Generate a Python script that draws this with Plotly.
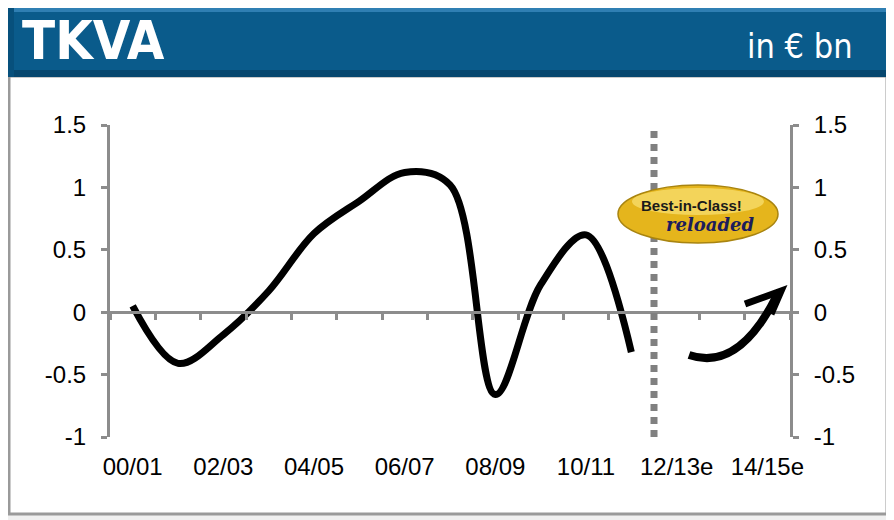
import plotly.graph_objects as go

# ---- data ----
periods = ["00/01", "01/02", "02/03", "03/04", "04/05", "05/06", "06/07", "07/08",
           "08/09", "09/10", "10/11", "11/12", "12/13e", "13/14e", "14/15e"]
tkva = [0.05, -0.41, -0.18, 0.17, 0.63, 0.89, 1.12, 1.02, -0.66, 0.22, 0.62, -0.32]
shown_labels = ["00/01", "02/03", "04/05", "06/07", "08/09", "10/11", "12/13e", "14/15e"]
y_ticks = [-1, -0.5, 0, 0.5, 1, 1.5]
y_ticktext = ["-1", "-0.5", "0", "0.5", "1", "1.5"]
forecast_start = "12/13e"

# page is offset by the default 8px body margin; layout numbers below are screen pixels
OFF = 8
W, H = 894, 520
L, R, T, B = 110 - OFF, W - (790 - OFF), 125 - OFF, H - (437 - OFF)
PW, PH = W - L - R, H - T - B


def px(x):
    return (x - OFF - L) / PW


def py(y):
    return (H - B - (y - OFF)) / PH


idx = list(range(len(periods)))
fig = go.Figure()
fig.add_trace(go.Scatter(x=idx[:len(tkva)], y=tkva, mode="lines",
                         line=dict(color="black", width=7, shape="spline", smoothing=1.0),
                         showlegend=False, hoverinfo="skip"))
fig.add_trace(go.Scatter(x=[None], y=[None], xaxis="x2", yaxis="y2",
                         showlegend=False, hoverinfo="skip"))

GRAY = "#8c8c8c"
tickfont = dict(family="Liberation Sans, Arial, sans-serif", size=24, color="black")
yax = dict(range=[-1, 1.5], tickvals=y_ticks, ticktext=y_ticktext, showline=True,
           linecolor=GRAY, linewidth=3, ticks="outside", ticklen=6, tickwidth=3,
           tickcolor=GRAY, showgrid=False, zeroline=False, tickfont=tickfont,
           ticklabelstandoff=10)

fig.update_layout(
    width=W, height=H,
    margin=dict(l=L, r=R, t=T, b=B),
    paper_bgcolor="#f0f0f0", plot_bgcolor="rgba(0,0,0,0)",
    xaxis=dict(range=[-0.5, len(periods) - 0.5],
               tickvals=[periods.index(p) for p in shown_labels], ticktext=shown_labels,
               showline=False, ticks="", showgrid=False, zeroline=False,
               tickfont=tickfont, ticklabelstandoff=13),
    xaxis2=dict(overlaying="x", matches="x", anchor="free",
                position=(0 - (-1)) / 2.5, side="bottom",
                tickvals=[i - 0.5 for i in range(len(periods) + 1)],
                showticklabels=False, showline=True, linecolor=GRAY, linewidth=3,
                ticks="outside", ticklen=6, tickwidth=3, tickcolor=GRAY,
                showgrid=False, zeroline=False),
    yaxis=yax,
    yaxis2=dict(yax, overlaying="y", matches="y", side="right", anchor="x2"),
)

shapes = []
# page panel
shapes.append(dict(type="rect", xref="paper", yref="paper", layer="below",
                   x0=px(9), x1=px(887), y0=py(514), y1=py(76),
                   fillcolor="white", line=dict(color="#9a9a9a", width=3)))
# header bar
shapes.append(dict(type="rect", xref="paper", yref="paper", layer="above",
                   x0=px(8), x1=px(902), y0=py(77), y1=py(0),
                   fillcolor="#0a5b8b", line=dict(width=0)))
shapes.append(dict(type="rect", xref="paper", yref="paper", layer="above",
                   x0=px(8), x1=px(902), y0=py(12), y1=py(0),
                   fillcolor="#2f7fb3", line=dict(width=0)))
shapes.append(dict(type="rect", xref="paper", yref="paper", layer="above",
                   x0=px(8), x1=px(902), y0=py(77), y1=py(70),
                   fillcolor="#06476f", line=dict(width=0)))
shapes.append(dict(type="rect", xref="paper", yref="paper", layer="above",
                   x0=px(8), x1=px(14), y0=py(77), y1=py(0),
                   fillcolor="#07507c", line=dict(width=0)))
# forecast divider
fb = periods.index(forecast_start) - 0.5
shapes.append(dict(type="line", xref="x", yref="y", x0=fb, x1=fb, y0=-1, y1=1.47,
                   line=dict(color="#808080", width=7, dash="7px,6px")))
# outlook arrow (decoration)
shapes.append(dict(type="path", xref="paper", yref="paper",
                   path=f"M {px(689)},{py(355)} Q {px(738)},{py(372)} {px(776)},{py(297)}",
                   line=dict(color="black", width=8)))
shapes.append(dict(type="path", xref="paper", yref="paper",
                   path=f"M {px(745)},{py(304)} L {px(781)},{py(291)} L {px(771)},{py(314)}",
                   line=dict(color="black", width=7)))
# badge
shapes.append(dict(type="circle", xref="paper", yref="paper",
                   x0=px(618), x1=px(778), y0=py(243), y1=py(185),
                   fillcolor="#e5b51c", line=dict(color="#a88410", width=1.5)))
shapes.append(dict(type="circle", xref="paper", yref="paper",
                   x0=px(632), x1=px(764), y0=py(215), y1=py(188),
                   fillcolor="#f6dc6a", line=dict(width=0), opacity=0.8))
fig.update_layout(shapes=shapes)

NARROW = "Liberation Sans Narrow, DejaVu Sans Condensed, Arial Narrow, sans-serif"
annotations = [
    dict(text="<b>TKVA</b>", xref="paper", yref="paper", x=px(20), y=py(40),
         xanchor="left", yanchor="middle", showarrow=False,
         font=dict(family=NARROW, size=54, color="white")),
    dict(text="in € bn", xref="paper", yref="paper", x=px(855), y=py(46),
         xanchor="right", yanchor="middle", showarrow=False,
         font=dict(family=NARROW, size=34, color="white")),
    dict(text="<b>Best-in-Class!</b>", xref="paper", yref="paper", x=px(691), y=py(205),
         xanchor="center", yanchor="middle", showarrow=False,
         font=dict(family="Liberation Sans, Arial, sans-serif", size=15, color="#1a1a1a")),
    dict(text="<b><i>reloaded</i></b>", xref="paper", yref="paper", x=px(710), y=py(224),
         xanchor="center", yanchor="middle", showarrow=False,
         font=dict(family="DejaVu Serif, serif", size=18, color="#1c1c5c")),
]
fig.update_layout(annotations=annotations)

fig.write_html("out.html")
